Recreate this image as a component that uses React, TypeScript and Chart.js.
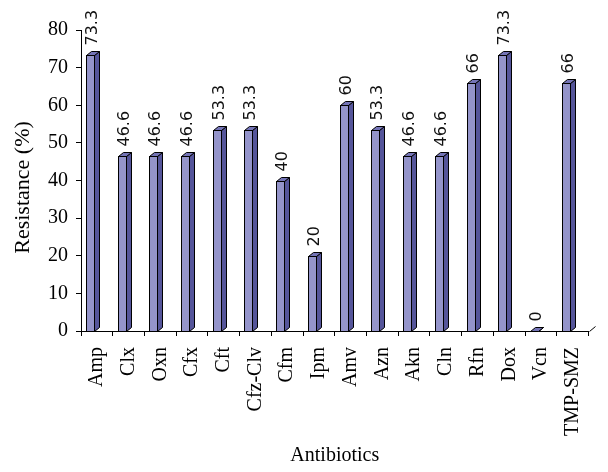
import React, { useEffect, useRef } from "react";
import { Chart, registerables } from "chart.js";

Chart.register(...registerables);

const categories = ["Amp", "Clx", "Oxn", "Cfx", "Cft", "Cfz-Clv", "Cfm", "Ipm", "Amv", "Azn", "Akn", "Cln", "Rfn", "Dox", "Vcn", "TMP-SMZ"];
const resistance = [73.3, 46.6, 46.6, 46.6, 53.3, 53.3, 40, 20, 60, 53.3, 46.6, 46.6, 66, 73.3, 0, 66];
const valueLabels = ["73.3", "46.6", "46.6", "46.6", "53.3", "53.3", "40", "20", "60", "53.3", "46.6", "46.6", "66", "73.3", "0", "66"];
const yTicks = [0, 10, 20, 30, 40, 50, 60, 70, 80];
const yTitle = "Resistance (%)";
const xTitle = "Antibiotics";

const FRONT = "#9494CA";
const SIDE = "#55559A";
const TOP = "#7474B6";
const FRONT_LEFT = -11;
const FRONT_W = 8;
const DX = 5;
const DY = 4;

const bars3d = {
  id: "bars3d",
  afterDatasetsDraw(chart: any) {
    const ctx = chart.ctx;
    const meta = chart.getDatasetMeta(0);
    ctx.save();
    ctx.lineWidth = 1;
    ctx.strokeStyle = "#000";
    meta.data.forEach((el: any, i: number) => {
      const { x, y, base } = el.getProps(["x", "y", "base"], true);
      const xl = Math.round(x + FRONT_LEFT) + 0.5;
      const xr = xl + FRONT_W;
      const yt = Math.round(y) + 0.5;
      const yb = Math.round(base) + 0.5;
      ctx.beginPath();
      ctx.moveTo(xr, yt);
      ctx.lineTo(xr + DX, yt - DY);
      ctx.lineTo(xr + DX, yb - DY);
      ctx.lineTo(xr, yb);
      ctx.closePath();
      ctx.fillStyle = SIDE;
      ctx.fill();
      ctx.stroke();
      ctx.beginPath();
      ctx.moveTo(xl, yt);
      ctx.lineTo(xr, yt);
      ctx.lineTo(xr + DX, yt - DY);
      ctx.lineTo(xl + DX, yt - DY);
      ctx.closePath();
      ctx.fillStyle = TOP;
      ctx.fill();
      ctx.stroke();
      if (yb - yt > 0.5) {
        ctx.fillStyle = FRONT;
        ctx.fillRect(xl, yt, FRONT_W, yb - yt);
        ctx.strokeRect(xl, yt, FRONT_W, yb - yt);
      }
      ctx.save();
      ctx.translate(xl + (FRONT_W + DX) / 2, yt - DY - 6);
      ctx.rotate(-Math.PI / 2);
      ctx.font = "16px 'DejaVu Sans'";
      ctx.fillStyle = "#111";
      ctx.textAlign = "left";
      ctx.textBaseline = "middle";
      ctx.fillText(valueLabels[i], 0, 0);
      ctx.restore();
    });
    const { right, bottom, top } = chart.chartArea;
    ctx.beginPath();
    ctx.moveTo(Math.round(right) + 0.5, Math.round(bottom) + 0.5);
    ctx.lineTo(Math.round(right) + 0.5 + DX + 1, Math.round(bottom) + 0.5 - DY - 1);
    ctx.stroke();
    // y axis title
    ctx.save();
    ctx.translate(23, (top + bottom) / 2 + 7);
    ctx.rotate(-Math.PI / 2);
    ctx.font = "22px 'Liberation Serif'";
    ctx.fillStyle = "#000";
    ctx.textAlign = "center";
    ctx.textBaseline = "middle";
    ctx.fillText(yTitle, 0, 0);
    ctx.restore();
    ctx.restore();
  },
};

export default function App() {
  const ref = useRef<HTMLCanvasElement>(null);
  useEffect(() => {
    if (!ref.current) return;
    const chart = new Chart(ref.current, {
      type: "bar",
      data: {
        labels: categories,
        datasets: [
          {
            data: resistance,
            backgroundColor: "rgba(0,0,0,0)",
            borderWidth: 0,
          },
        ],
      },
      options: {
        responsive: false,
        animation: false,
        layout: { padding: { left: 0, right: 8, top: 30, bottom: 0 } },
        plugins: { legend: { display: false }, tooltip: { enabled: false } },
        scales: {
          x: {
            grid: { display: true, drawOnChartArea: false, drawTicks: true, tickLength: 5, color: "#000", offset: true },
            border: { display: true, color: "#000", width: 1 },
            ticks: {
              autoSkip: false,
              minRotation: 90,
              maxRotation: 90,
              padding: 11,
              color: "#000",
              font: { family: "'Liberation Serif'", size: 20 },
            },
            title: {
              display: true,
              text: xTitle,
              color: "#000",
              font: { family: "'Liberation Serif'", size: 20 },
              padding: { top: 0, bottom: 4 },
            },
            afterFit: (s: any) => {
              s.height = 141;
            },
          },
          y: {
            min: 0,
            max: 80,
            afterBuildTicks: (s: any) => {
              s.ticks = yTicks.map((v) => ({ value: v }));
            },
            grid: { display: true, drawOnChartArea: false, drawTicks: true, tickLength: 5, color: "#000" },
            border: { display: true, color: "#000", width: 1 },
            ticks: {
              padding: 8,
              color: "#000",
              font: { family: "'Liberation Serif'", size: 20 },
            },
            afterFit: (s: any) => {
              s.width = 81;
            },
          },
        },
      },
      plugins: [bars3d],
    });
    return () => chart.destroy();
  }, []);
  return (
    <div style={{ position: "absolute", left: 0, top: 0, width: 608, height: 472, background: "#fff" }}>
      <canvas ref={ref} width={608} height={472} style={{ display: "block" }} />
    </div>
  );
}
